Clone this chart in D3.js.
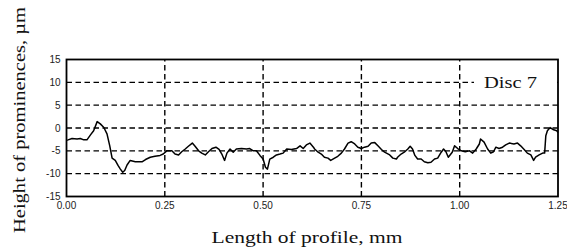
<!DOCTYPE html>
<html>
<head>
<meta charset="utf-8">
<script src="https://cdn.jsdelivr.net/npm/d3@7"></script>
<style>
  body { margin: 0; background: #fff; }
  svg { display: block; }
</style>
</head>
<body>
<div id="chart"></div>
<script>
// profile samples (mm, µm)
const profileX = [0.000, 0.004, 0.014, 0.027, 0.035, 0.044, 0.052, 0.061, 0.069, 0.078, 0.086, 0.095, 0.103, 0.110, 0.116,
  0.124, 0.131, 0.137, 0.143, 0.148, 0.154, 0.162, 0.175, 0.192, 0.201, 0.213, 0.225, 0.238, 0.246, 0.255,
  0.268, 0.276, 0.285, 0.293, 0.302, 0.310, 0.320, 0.327, 0.336, 0.344, 0.353, 0.361, 0.370, 0.380, 0.388,
  0.395, 0.402, 0.408, 0.416, 0.424, 0.432, 0.445, 0.458, 0.466, 0.475, 0.483, 0.492, 0.500, 0.506, 0.511,
  0.517, 0.526, 0.534, 0.543, 0.551, 0.560, 0.572, 0.585, 0.594, 0.602, 0.610, 0.619, 0.628, 0.631, 0.640,
  0.648, 0.656, 0.665, 0.672, 0.682, 0.690, 0.699, 0.707, 0.716, 0.724, 0.733, 0.741, 0.750, 0.758, 0.767,
  0.775, 0.784, 0.792, 0.801, 0.809, 0.822, 0.830, 0.839, 0.842, 0.851, 0.859, 0.868, 0.874, 0.880, 0.886,
  0.893, 0.902, 0.910, 0.919, 0.927, 0.936, 0.944, 0.953, 0.959, 0.965, 0.971, 0.981, 0.987, 0.995, 1.004,
  1.014, 1.025, 1.033, 1.042, 1.050, 1.053, 1.062, 1.071, 1.079, 1.086, 1.092, 1.100, 1.109, 1.117, 1.126,
  1.138, 1.147, 1.155, 1.164, 1.172, 1.181, 1.188, 1.193, 1.202, 1.211, 1.216, 1.219, 1.223, 1.230, 1.239,
  1.247, 1.250];
const profileY = [-2.7, -2.6, -2.3, -2.4, -2.3, -2.6, -2.6, -1.5, -0.6, 1.4, 0.9, 0.1, -1.3, -3.9, -6.6,
  -7.1, -8.2, -9.0, -9.7, -9.3, -8.1, -7.1, -7.4, -7.4, -6.9, -6.4, -6.2, -6.0, -5.7, -5.0,
  -5.0, -5.7, -5.9, -5.2, -4.6, -4.0, -3.3, -4.0, -5.0, -5.5, -5.9, -5.2, -4.5, -4.2, -4.7,
  -5.7, -7.1, -5.5, -4.6, -5.3, -4.6, -4.5, -4.6, -4.5, -5.0, -5.0, -6.0, -6.8, -8.6, -9.0,
  -6.8, -6.4, -5.9, -5.7, -5.5, -4.6, -4.7, -4.5, -3.9, -4.5, -3.7, -3.3, -4.2, -4.6, -5.3,
  -5.7, -6.4, -6.6, -7.1, -6.6, -6.2, -5.5, -4.6, -3.3, -3.0, -3.5, -4.2, -4.5, -4.2, -4.0,
  -3.3, -3.2, -3.9, -4.7, -5.3, -5.9, -6.6, -6.8, -6.4, -5.7, -5.3, -4.6, -4.0, -4.6, -6.0,
  -6.8, -6.8, -7.4, -7.6, -7.5, -6.8, -6.6, -5.3, -4.6, -5.2, -6.4, -5.3, -3.9, -4.5, -5.0,
  -5.2, -5.0, -5.5, -4.6, -3.5, -2.4, -3.1, -4.6, -5.5, -5.2, -4.2, -4.5, -4.2, -3.7, -3.3,
  -3.5, -3.3, -3.9, -4.7, -5.5, -5.9, -7.1, -6.4, -5.9, -5.5, -5.5, -1.7, -0.6, 0.1, -0.4,
  -0.6, -1.0];

const xTicks = [0, 0.25, 0.5, 0.75, 1.0, 1.25];
const yTicks = [-15, -10, -5, 0, 5, 10, 15];
const xGrid = [0.25, 0.5, 0.75, 1.0];
const yGrid = [-10, -5, 0, 5, 10];

const width = 567, height = 249;
const margin = {top: 59.5, right: 9, bottom: 52.5, left: 66.5};

const svg = d3.select('#chart').append('svg')
  .attr('width', width)
  .attr('height', height);

const x = d3.scaleLinear().domain([0, 1.25]).range([margin.left, width - margin.right]);
const y = d3.scaleLinear().domain([-15, 15]).range([height - margin.bottom, margin.top]);

// dashed grid
svg.append('g').selectAll('line')
  .data(yGrid)
  .join('line')
  .attr('x1', x(0)).attr('x2', x(1.25))
  .attr('y1', d => y(d)).attr('y2', d => y(d))
  .attr('stroke', '#000')
  .attr('stroke-width', 1.4)
  .attr('stroke-dasharray', '5.5,3.5');

svg.append('g').selectAll('line')
  .data(xGrid)
  .join('line')
  .attr('y1', y(-15)).attr('y2', y(15))
  .attr('x1', d => x(d)).attr('x2', d => x(d))
  .attr('stroke', '#000')
  .attr('stroke-width', 1.4)
  .attr('stroke-dasharray', '5.5,3.5');

// profile line
const line = d3.line()
  .x(d => x(d[0]))
  .y(d => y(d[1]));

svg.append('path')
  .datum(d3.zip(profileX, profileY))
  .attr('fill', 'none')
  .attr('stroke', '#000')
  .attr('stroke-width', 1.5)
  .attr('stroke-linejoin', 'round')
  .attr('d', line);

// label box hides the grid behind "Disc 7"
svg.append('rect')
  .attr('x', 474)
  .attr('y', y(15) + 2)
  .attr('width', x(1.25) - 474 - 1)
  .attr('height', 32)
  .attr('fill', '#fff');

// frame
svg.append('rect')
  .attr('x', x(0)).attr('y', y(15))
  .attr('width', x(1.25) - x(0))
  .attr('height', y(-15) - y(15))
  .attr('fill', 'none')
  .attr('stroke', '#000')
  .attr('stroke-width', 1.8);

// tick labels
svg.append('g').selectAll('text')
  .data(yTicks)
  .join('text')
  .attr('x', x(0) - 6)
  .attr('y', d => y(d))
  .attr('dy', '0.36em')
  .attr('text-anchor', 'end')
  .attr('font-family', 'Liberation Sans, Arial, sans-serif')
  .attr('font-size', 10)
  .attr('fill', '#222')
  .text(d => d);

svg.append('g').selectAll('text')
  .data(xTicks)
  .join('text')
  .attr('x', d => x(d))
  .attr('y', y(-15) + 12)
  .attr('text-anchor', 'middle')
  .attr('font-family', 'Liberation Sans, Arial, sans-serif')
  .attr('font-size', 10)
  .attr('fill', '#222')
  .text(d => d3.format('.2f')(d));

// axis titles
svg.append('text')
  .attr('x', 307)
  .attr('y', 243)
  .attr('text-anchor', 'middle')
  .attr('font-family', 'Liberation Serif, Times New Roman, serif')
  .attr('font-size', 17)
  .attr('fill', '#111')
  .attr('textLength', 191)
  .attr('lengthAdjust', 'spacingAndGlyphs')
  .text('Length of profile, mm');

svg.append('text')
  .attr('transform', 'translate(25,120) rotate(-90)')
  .attr('text-anchor', 'middle')
  .attr('font-family', 'Liberation Serif, Times New Roman, serif')
  .attr('font-size', 17)
  .attr('fill', '#111')
  .attr('textLength', 226)
  .attr('lengthAdjust', 'spacingAndGlyphs')
  .text('Height of prominences, µm');

svg.append('text')
  .attr('x', 484)
  .attr('y', 88)
  .attr('font-family', 'Liberation Serif, Times New Roman, serif')
  .attr('font-size', 17)
  .attr('fill', '#111')
  .attr('textLength', 53)
  .attr('lengthAdjust', 'spacingAndGlyphs')
  .text('Disc 7');
</script>
</body>
</html>
